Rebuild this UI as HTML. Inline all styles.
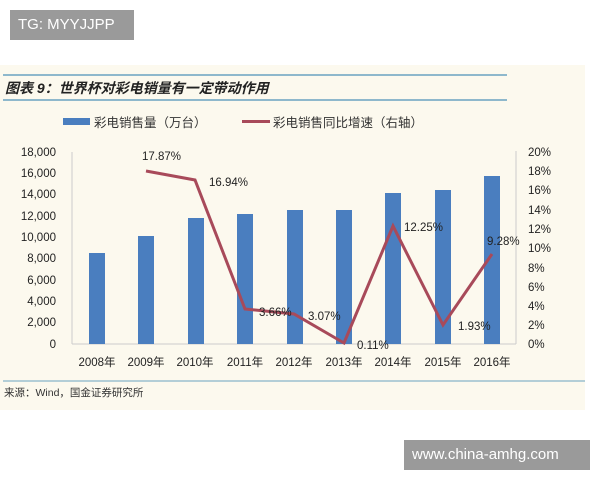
<!DOCTYPE html>
<html><head><meta charset="utf-8"><style>
body{margin:0;width:600px;height:480px;background:#fff;position:relative;overflow:hidden;font-family:"Liberation Sans","Noto Sans CJK SC",sans-serif}
.wm{position:absolute;background:#9a9a9a;color:#fff;font-size:15px;line-height:30px;padding:0 8px}
</style></head><body>
<svg width="600" height="480" style="position:absolute;left:0;top:0" font-family="Liberation Sans, Noto Sans CJK SC, sans-serif">
<rect x="0" y="65" width="585" height="345" fill="#fcf9ee"/>
<line x1="3" y1="75" x2="507" y2="75" stroke="#6aa3c0" stroke-width="1.5"/>
<line x1="3" y1="100" x2="507" y2="100" stroke="#6aa3c0" stroke-width="1.5"/>
<text x="5" y="93" font-size="14" font-weight="bold" font-style="italic" fill="#222">图表 9：世界杯对彩电销量有一定带动作用</text>
<rect x="63" y="118" width="27" height="7" fill="#4a7ebf"/>
<text x="94" y="127" font-size="12.5" fill="#333">彩电销售量（万台）</text>
<rect x="242" y="120" width="28" height="3" fill="#a84a5a"/>
<text x="273" y="127" font-size="12.5" fill="#333">彩电销售同比增速（右轴）</text>
<g font-size="11.5" fill="#222" text-anchor="end">
<text x="56" y="156">18,000</text><text x="56" y="177">16,000</text><text x="56" y="198">14,000</text>
<text x="56" y="220">12,000</text><text x="56" y="241">10,000</text><text x="56" y="262">8,000</text>
<text x="56" y="284">6,000</text><text x="56" y="305">4,000</text><text x="56" y="326">2,000</text><text x="56" y="348">0</text>
</g>
<g font-size="11.5" fill="#222">
<text x="528" y="156">20%</text><text x="528" y="175">18%</text><text x="528" y="194">16%</text>
<text x="528" y="214">14%</text><text x="528" y="233">12%</text><text x="528" y="252">10%</text>
<text x="528" y="272">8%</text><text x="528" y="291">6%</text><text x="528" y="310">4%</text>
<text x="528" y="329">2%</text><text x="528" y="348">0%</text>
</g>
<line x1="72" y1="344" x2="516" y2="344" stroke="#ccc"/>
<line x1="72" y1="152" x2="72" y2="344" stroke="#ccc"/>
<line x1="516" y1="151" x2="516" y2="344" stroke="#ccc"/>
<g fill="#4a7ebf">
<rect x="89" y="253" width="16" height="91"/>
<rect x="138" y="236" width="16" height="108"/>
<rect x="188" y="218" width="16" height="126"/>
<rect x="237" y="214" width="16" height="130"/>
<rect x="287" y="210" width="16" height="134"/>
<rect x="336" y="210" width="16" height="134"/>
<rect x="385" y="193" width="16" height="151"/>
<rect x="435" y="190" width="16" height="154"/>
<rect x="484" y="176" width="16" height="168"/>
</g>
<polyline fill="none" stroke="#a84a5a" stroke-width="3" points="146,171 195,180 245,309 294,314 344,343 393,226 443,325 492,254"/>
<g font-size="11.5" fill="#222">
<text x="142" y="160">17.87%</text><text x="209" y="186">16.94%</text>
<text x="259" y="316">3.66%</text><text x="308" y="320">3.07%</text>
<text x="357" y="349">0.11%</text><text x="404" y="231">12.25%</text>
<text x="458" y="330">1.93%</text><text x="487" y="245">9.28%</text>
</g>
<g font-size="11.5" fill="#222" text-anchor="middle">
<text x="97" y="366">2008年</text><text x="146" y="366">2009年</text><text x="195" y="366">2010年</text>
<text x="245" y="366">2011年</text><text x="294" y="366">2012年</text><text x="344" y="366">2013年</text>
<text x="393" y="366">2014年</text><text x="443" y="366">2015年</text><text x="492" y="366">2016年</text>
</g>
<line x1="3" y1="381" x2="585" y2="381" stroke="#6aa3c0" stroke-width="1"/>
<text x="4" y="396" font-size="10.5" fill="#333">来源：Wind，国金证券研究所</text>
</svg>
<div class="wm" style="left:10px;top:10px;width:108px">TG: MYYJJPP</div>
<div class="wm" style="left:404px;top:440px;width:170px">www.china-amhg.com</div>
</body></html>
